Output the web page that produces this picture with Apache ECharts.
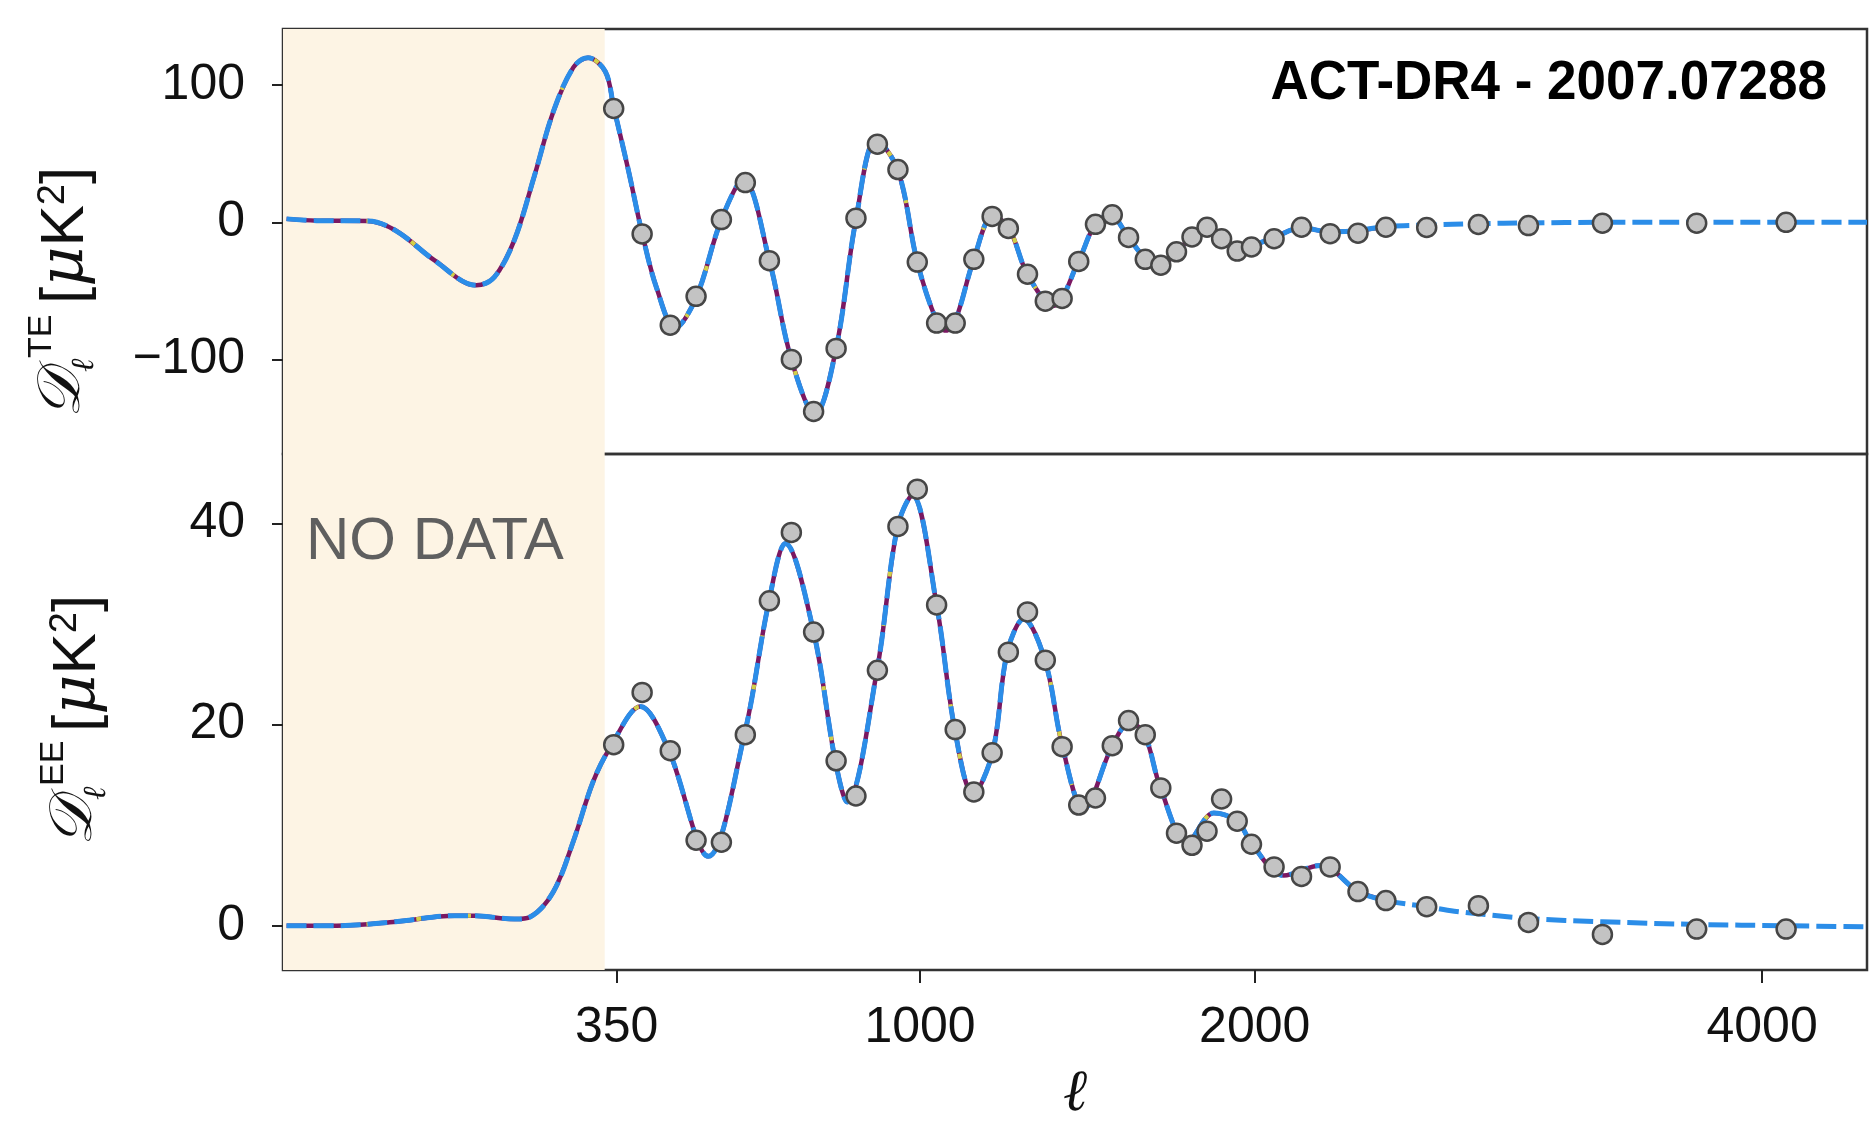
<!DOCTYPE html>
<html><head><meta charset="utf-8">
<script src="https://cdn.jsdelivr.net/npm/echarts@6/dist/echarts.min.js"></script>
<style>html,body{margin:0;padding:0;background:#fff}#c{width:1870px;height:1125px}</style>
</head><body><div id="c"></div>
<script>
// ---- tick labels / ranges ----
const xTickLabels = [350, 1000, 2000, 4000];
const teTickLabels = [-100, 0, 100];
const eeTickLabels = [0, 20, 40];
const ellRange = [1.3, 4480];
const teRange = [-169, 141];
const eeRange = [-4.4, 46.9];
const noDataEnd = 330;
const extraCurveEnd = 2466;

// ---- ACT-DR4 binned data ----
const binEll = [345, 394, 445, 494, 544, 593, 644, 692, 742, 794, 841, 893, 944, 993, 1043, 1092, 1142, 1192, 1237, 1291, 1342, 1391, 1440, 1490, 1541, 1591, 1643, 1692, 1742, 1792, 1841, 1889, 1941, 1989, 2066, 2161, 2262, 2362, 2464, 2616, 2814, 3011, 3312, 3712, 4108];
const teDataVal = [83, -8.5, -75, -54, 2, 29, -28, -100, -138, -92, 3, 57, 38.5, -29, -73.5, -73.5, -27, 4.3, -4.5, -37.8, -57.5, -55.5, -28.5, -1.5, 5.5, -11, -27, -31.3, -21.5, -10.7, -3.6, -12, -21, -18, -12, -3.6, -8.3, -7.9, -3.6, -3.8, -1.6, -2.4, -0.6, -0.6, 0];
const eeDataVal = [18, 23.2, 17.4, 8.5, 8.3, 19, 32.3, 39.1, 29.2, 16.4, 12.9, 25.4, 39.7, 43.4, 31.9, 19.5, 13.3, 17.2, 27.2, 31.2, 26.4, 17.8, 12, 12.7, 17.9, 20.4, 19, 13.7, 9.2, 8, 9.4, 12.6, 10.4, 8.1, 5.85, 4.9, 5.85, 3.4, 2.5, 1.9, 2, 0.33, -0.86, -0.33, -0.33];

// ---- theory curves ----
const teCurveEll = [2, 12, 42, 64, 101, 147, 169, 195, 222, 250, 280, 303, 331, 345, 370, 394, 420, 454, 494, 544, 589, 644, 692, 745, 794, 841, 890, 944, 993, 1043, 1067, 1092, 1142, 1195, 1240, 1291, 1365, 1440, 1490, 1535, 1591, 1643, 1692, 1742, 1792, 1841, 1889, 1941, 1989, 2066, 2161, 2262, 2362, 2464, 2616, 2814, 3011, 3312, 3712, 4108, 4480];
const teCurveVal = [2.5, 1.2, 1.0, -6, -28, -46, -40, -13, 33, 81, 113, 120, 110, 84, 38, -8, -48, -77, -55, 2, 31, -28, -100, -140, -92, 2, 60, 38, -29, -72, -79, -72, -27, 5, -5, -38, -61, -28, -1, 5, -11, -26, -31, -22, -10, -4, -11, -19, -17, -11, -4, -7, -6, -3, -2, -1, -0.5, 0, 0, 0, 0];
const eeCurveEll = [2, 22, 64, 122, 145, 195, 217, 250, 280, 311, 338, 391, 441, 518, 591, 642, 679, 742, 792, 820, 892, 942, 980, 1043, 1091, 1140, 1193, 1234, 1280, 1341, 1392, 1455, 1541, 1596, 1641, 1691, 1777, 1863, 1941, 1991, 2099, 2227, 2364, 2466, 2616, 2721, 3011, 3312, 3712, 4108, 4480];
const eeCurveVal = [0, 0, 0.4, 1, 1, 0.66, 0.9, 3.4, 8.4, 14.3, 17.6, 21.8, 17.6, 6.9, 19, 32, 38, 29.2, 16.4, 12.3, 25.4, 39.5, 42.8, 31.9, 19.5, 13.1, 17.2, 27.2, 30.5, 26.4, 17.8, 11.6, 17.9, 20.2, 19, 13.7, 8.3, 11.2, 10.4, 8.1, 5, 6, 3.4, 2.5, 1.9, 1.45, 0.73, 0.4, 0.13, 0, -0.1];

// ---- axis transform: x axis is linear in ell^0.6 ----
const P = 0.6;
const fwd = l => Math.pow(l, P);
const inv = u => Math.pow(u, 1 / P);
const pairs = (ells, vals, maxEll) => ells.map((l, i) => [fwd(l), vals[i], l]).filter(d => maxEll == null || d[2] <= maxEll);

const FONT = '"Liberation Sans", Arial, sans-serif';
const minus = v => v < 0 ? '\u2212' + Math.abs(v) : String(v);

function xAxisOpt(gi, showLabels) {
  const cv = xTickLabels.map(fwd);
  return {
    type: 'value', gridIndex: gi, position: 'bottom', min: fwd(ellRange[0]), max: fwd(ellRange[1]),
    axisLine: { show: false, onZero: false }, splitLine: { show: false },
    axisTick: { show: showLabels, inside: false, customValues: cv, length: 13, lineStyle: { color: '#222', width: 2 } },
    axisLabel: { show: showLabels, customValues: cv, margin: 33, fontSize: 50, fontFamily: FONT, color: '#111',
      formatter: v => String(Math.round(inv(v))) },
    name: showLabels ? '\u2113' : '', nameLocation: 'middle', nameGap: 96,
    nameTextStyle: { fontSize: 58, fontStyle: 'italic', fontFamily: '"DejaVu Serif", serif', color: '#111' }
  };
}
function yAxisOpt(gi, range, ticks) {
  return {
    type: 'value', gridIndex: gi, min: range[0], max: range[1],
    axisLine: { show: false, onZero: false }, splitLine: { show: false },
    axisTick: { show: true, customValues: ticks, length: 11, lineStyle: { color: '#222', width: 2 } },
    axisLabel: { customValues: ticks, margin: 38, fontSize: 50, fontFamily: FONT, color: '#111', formatter: minus }
  };
}
function curveSeries(gi, ells, vals) {
  const common = { type: 'line', xAxisIndex: gi, yAxisIndex: gi, showSymbol: false, symbol: 'none', smooth: 0.35, silent: true, animation: false };
  return [
    Object.assign({}, common, { data: pairs(ells, vals, extraCurveEnd), z: 3, lineStyle: { color: '#7a1862', width: 4.5 } }),
    Object.assign({}, common, { data: pairs(ells, vals, extraCurveEnd), z: 4, lineStyle: { color: '#d2d048', width: 4, type: [5, 45], dashOffset: 20 } }),
    Object.assign({}, common, { data: pairs(ells, vals), z: 5, lineStyle: { color: '#2b8de8', width: 5, type: [20, 7] } })
  ];
}
function pointSeries(gi, vals) {
  return { type: 'scatter', xAxisIndex: gi, yAxisIndex: gi, data: pairs(binEll, vals), symbolSize: 19, z: 10,
    itemStyle: { color: '#c3c3c3', borderColor: '#464646', borderWidth: 2.5, opacity: 1 }, silent: true };
}
function shadeSeries(gi) {
  return { type: 'line', xAxisIndex: gi, yAxisIndex: gi, data: [], z: 1, silent: true,
    markArea: { silent: true, itemStyle: { color: '#fdf4e4' }, data: [[{ xAxis: fwd(ellRange[0]) }, { xAxis: fwd(noDataEnd) }]] } };
}

function yLabel(x, y, sup) {
  return { type: 'group', x: x, y: y, rotation: Math.PI / 2, silent: true, children: [
    { type: 'text', x: 0, y: -4, style: { text: '\uD835\uDC9F', font: 'italic 60px "DejaVu Serif", "DejaVu Sans", serif', fill: '#111', align: 'left', verticalAlign: 'bottom' } },
    { type: 'text', x: 60, y: -38, style: { text: sup, font: '34px ' + FONT, fill: '#111', align: 'left', verticalAlign: 'bottom' } },
    { type: 'text', x: 46, y: 4, style: { text: '\u2113', font: 'italic 32px "DejaVu Serif", serif', fill: '#111', align: 'left', verticalAlign: 'bottom' } },
    { type: 'text', x: 114, y: 0, style: { text: '[{mu|\u03BC}K{s|2}]', font: '62px ' + FONT, fill: '#111', align: 'left', verticalAlign: 'bottom',
      rich: { mu: { font: 'italic 62px "DejaVu Serif", serif', fill: '#111' }, s: { font: '38px ' + FONT, fill: '#111', verticalAlign: 'top' } } } }
  ]};
}

const chart = echarts.init(document.getElementById('c'), null, { renderer: 'canvas' });
chart.setOption({
  animation: false,
  backgroundColor: '#fff',
  grid: [
    { left: 283, right: 3, top: 29, height: 425, show: true, borderColor: '#333', borderWidth: 2.5, backgroundColor: 'transparent' },
    { left: 283, right: 3, top: 454, height: 518, show: true, borderColor: '#333', borderWidth: 2.5, backgroundColor: 'transparent' }
  ],
  xAxis: [xAxisOpt(0, false), xAxisOpt(1, true)],
  yAxis: [yAxisOpt(0, teRange, teTickLabels), yAxisOpt(1, eeRange, eeTickLabels)],
  series: [
    shadeSeries(0), shadeSeries(1),
    ...curveSeries(0, teCurveEll, teCurveVal),
    ...curveSeries(1, eeCurveEll, eeCurveVal),
    pointSeries(0, teDataVal),
    pointSeries(1, eeDataVal)
  ],
  graphic: [
    { type: 'text', x: 1827, y: 84, scaleX: 0.946, silent: true, z: 20,
      style: { text: 'ACT-DR4 - 2007.07288', font: 'bold 56px ' + FONT, fill: '#000', align: 'right', verticalAlign: 'middle' } },
    { type: 'text', x: 306, y: 542, silent: true, z: 20,
      style: { text: 'NO DATA', font: '60px ' + FONT, fill: '#5f5f5f', align: 'left', verticalAlign: 'middle' } },
    yLabel(97, 418, 'TE'),
    yLabel(109, 846, 'EE')
  ]
});
</script></body></html>
